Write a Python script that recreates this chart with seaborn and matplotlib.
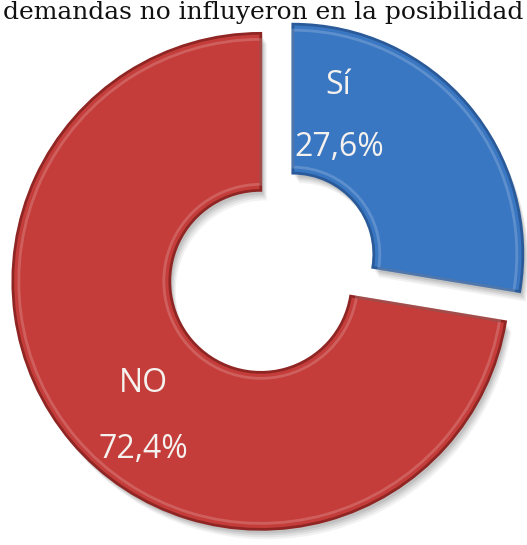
import matplotlib
matplotlib.use("Agg")
import matplotlib.pyplot as plt
import seaborn as sns
import numpy as np

# ---- data ----
labels = ["Sí", "NO"]
values = [27.6, 72.4]
pct_labels = ["27,6%", "72,4%"]
colors = ["#3a77c2", "#c43d3a"]
edge_colors = ["#2a5a99", "#8f2624"]
title_text = "demandas no influyeron en la posibilidad"

sns.set_theme(style="white")
plt.rcParams['font.family'] = ['Open Sans', 'DejaVu Sans']

W, H = 527, 545
fig = plt.figure(figsize=(W / 100, H / 100), dpi=100)
fig.patch.set_facecolor("white")
ax = fig.add_axes([0, 0, 1, 1])

center = (273, 274)
explode = [26, 16]
R = 248

# soft shadow
for k, a in zip([10, 8, 6, 4], [0.05, 0.06, 0.07, 0.08]):
    sw, _ = ax.pie(values, colors=["#000000"] * 2, startangle=90, counterclock=False,
                   explode=explode, radius=R, center=(center[0] + k * 0.6, center[1] - k),
                   wedgeprops=dict(width=157, linewidth=0, alpha=a))
    sw[0].set_radius(230)
    sw[0].set_width(149)

wedges, _ = ax.pie(values, colors=colors, startangle=90, counterclock=False,
                   explode=explode, radius=R, center=center,
                   wedgeprops=dict(width=157, linewidth=2))
for w, ec in zip(wedges, edge_colors):
    w.set_edgecolor(ec)
wedges[0].set_radius(230)
wedges[0].set_width(149)

# light bevel highlight
hl, _ = ax.pie(values, colors=["none", "none"], startangle=90, counterclock=False,
               explode=explode, radius=R - 6, center=center,
               wedgeprops=dict(width=145, linewidth=2, edgecolor="white", alpha=0.18))
hl[0].set_radius(224)
hl[0].set_width(137)

ax.set_xlim(0, W)
ax.set_ylim(0, H)
ax.set_aspect("equal")
ax.axis("off")

txt_kw = dict(color="#f4f1ee", fontsize=23, ha="center", va="center")
ax.text(338, H - 85, labels[0], **txt_kw)
ax.text(339, H - 148, pct_labels[0], **txt_kw)
ax.text(143, H - 384, labels[1], **txt_kw)
ax.text(143, H - 449, pct_labels[1], **txt_kw)

# caption at the top, sized to span the width
t = ax.text(W / 2, H - 1, title_text, family="DejaVu Serif", fontsize=17,
            ha="center", va="top", color="#111111")
fig.canvas.draw()
r = fig.canvas.get_renderer()
tw = t.get_window_extent(r).width
t.set_fontsize(17 * 520 / tw)

fig.savefig("out.png", dpi=100, facecolor="white")
